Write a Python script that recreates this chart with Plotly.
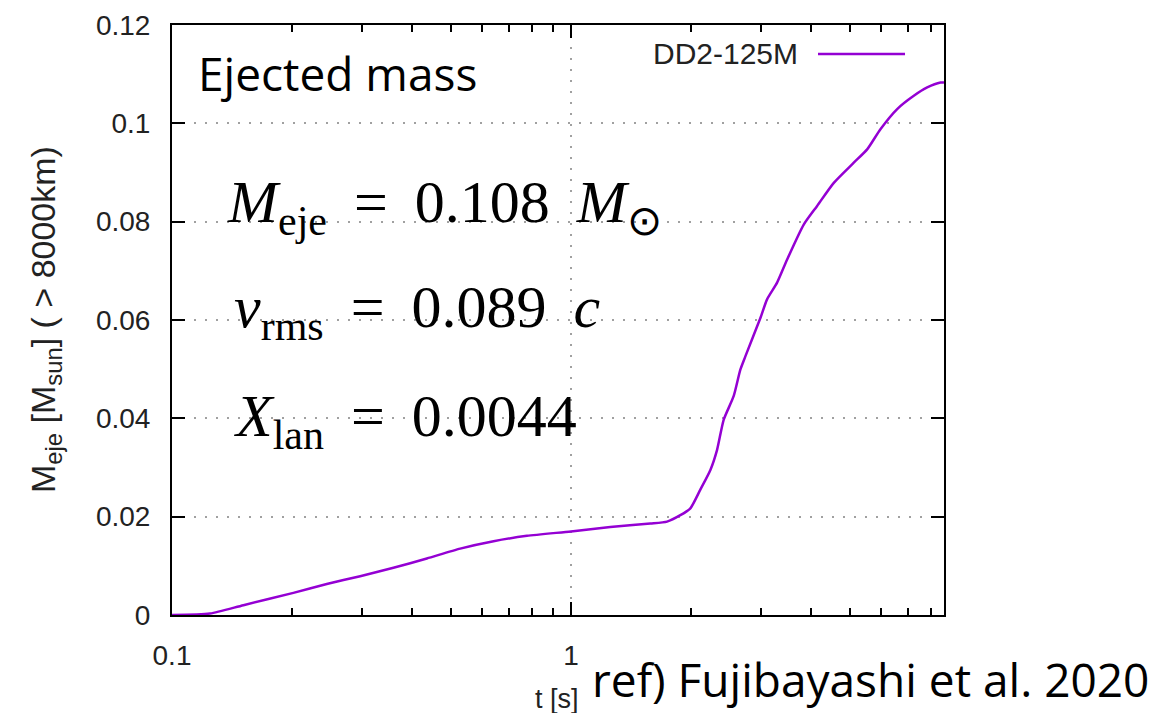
import math
import plotly.graph_objects as go

# ---- data ----
t_s = [0.1, 0.1245, 0.151, 0.2015, 0.2443, 0.2962, 0.359, 0.4353, 0.5277, 0.6397,
       0.7756, 1.0, 1.255, 1.581, 1.741, 1.880, 1.992, 2.110, 2.236, 2.324,
       2.414, 2.557, 2.658, 2.736, 2.984, 3.101, 3.286, 3.482, 3.832, 4.140,
       4.558, 5.115, 5.526, 5.966, 6.571, 7.233, 7.814, 8.438, 8.61]
m_eje = [0.0, 0.0003, 0.0020, 0.0045, 0.0063, 0.0079, 0.0096, 0.0115, 0.0135, 0.0150,
         0.0161, 0.0170, 0.0179, 0.0186, 0.0190, 0.0203, 0.0217, 0.0255, 0.0295, 0.0336,
         0.0397, 0.0445, 0.0499, 0.0526, 0.0604, 0.0642, 0.0676, 0.0723, 0.0794, 0.0832,
         0.0879, 0.0920, 0.0947, 0.0988, 0.1029, 0.1056, 0.1073, 0.1083, 0.1083]

series_name = "DD2-125M"
x_major_ticks = [0.1, 1]
x_major_labels = ["0.1", "1"]
x_minor_ticks = [0.2, 0.3, 0.4, 0.5, 0.6, 0.7, 0.8, 0.9, 2, 3, 4, 5, 6, 7, 8]
x_max = 8.61
y_max = 0.12
y_step = 0.02

TS = "\u2009"
eq_lines = [
    f"<i>M</i><sub>eje</sub> {TS}={TS} 0.108{TS} <i>M</i><sub>⊙</sub>",
    f"<i>v</i><sub>rms</sub> {TS}={TS} 0.089{TS} <i>c</i>",
    f"<i>X</i><sub>lan</sub> {TS}={TS} 0.0044",
]

LINE_COLOR = "#9400D3"
GRID_COLOR = "#a0a0a0"
SANS = "Liberation Sans, Arial, sans-serif"
TICK_FONT = dict(family=SANS, size=28, color="#222222")

fig = go.Figure()
fig.add_trace(go.Scatter(x=t_s, y=m_eje, mode="lines", name=series_name,
                         line=dict(color=LINE_COLOR, width=2.5, shape="spline", smoothing=0.6),
                         showlegend=False))

axis_common = dict(
    showline=True, linecolor="black", linewidth=2, mirror="ticks",
    ticks="inside", tickcolor="black", tickwidth=2, ticklen=13,
    showgrid=True, gridcolor=GRID_COLOR, gridwidth=1.5, griddash="2px,9px",
    zeroline=False, tickfont=TICK_FONT, automargin=False,
)

fig.update_xaxes(
    type="log", range=[math.log10(x_major_ticks[0]), math.log10(x_max)],
    tickmode="array", tickvals=x_major_ticks, ticktext=x_major_labels,
    minor=dict(tickmode="array", tickvals=x_minor_ticks, ticks="inside", ticklen=7,
               tickwidth=1.5, tickcolor="black", showgrid=False),
    ticklabelstandoff=14,
    **axis_common,
)
fig.update_yaxes(
    range=[0, y_max], tick0=0, dtick=y_step, ticklabelstandoff=14,
    **axis_common,
)

ann = []
# y axis title
ann.append(dict(text="M<sub>eje</sub> [M<sub>sun</sub>] ( > 8000km)", textangle=-90,
                xref="paper", yref="paper", x=-0.1645, y=0.5, xanchor="center", yanchor="middle",
                showarrow=False, font=dict(family=SANS, size=34, color="#222222")))
# x axis title
ann.append(dict(text="t [s]", xref="paper", yref="paper", x=0.4987, y=-0.142,
                xanchor="center", yanchor="middle", showarrow=False,
                font=dict(family=SANS, size=27, color="#222222")))
# legend (text left of the sample line, gnuplot style)
ann.append(dict(text=series_name, xref="paper", yref="paper", x=0.8135, y=0.951,
                xanchor="right", yanchor="middle", showarrow=False,
                font=dict(family=SANS, size=30, color="#222222")))
# panel label
ann.append(dict(text="Ejected mass", xref="paper", yref="paper", x=0.031, y=0.919,
                xanchor="left", yanchor="middle", showarrow=False,
                font=dict(family="Open Sans, sans-serif", size=46, color="black")))
# equations
for i, (txt, yy) in enumerate(zip(eq_lines, [0.693, 0.515, 0.330])):
    ann.append(dict(text=txt, xref="paper", yref="paper", x=0.0686 if i == 0 else 0.0777, y=yy,
                    xanchor="left", yanchor="middle", showarrow=False,
                    font=dict(family="Liberation Serif, serif", size=60, color="black")))
# reference
ann.append(dict(text="ref) Fujibayashi et al. 2020", xref="paper", yref="paper", x=0.5415, y=-0.108,
                xanchor="left", yanchor="middle", showarrow=False,
                font=dict(family="Open Sans, sans-serif", size=46, color="black")))

# the page adds an 8px body margin, so the figure is 8px smaller than the window
fig.update_layout(
    width=1168, height=705,
    margin=dict(l=164, r=232, t=17, b=98, autoexpand=False),
    paper_bgcolor="white", plot_bgcolor="white",
    annotations=ann,
    shapes=[dict(type="line", xref="paper", yref="paper", x0=0.8368, x1=0.9495, y0=0.951, y1=0.951,
                 line=dict(color=LINE_COLOR, width=2.5))],
)

fig.write_html("out.html")
